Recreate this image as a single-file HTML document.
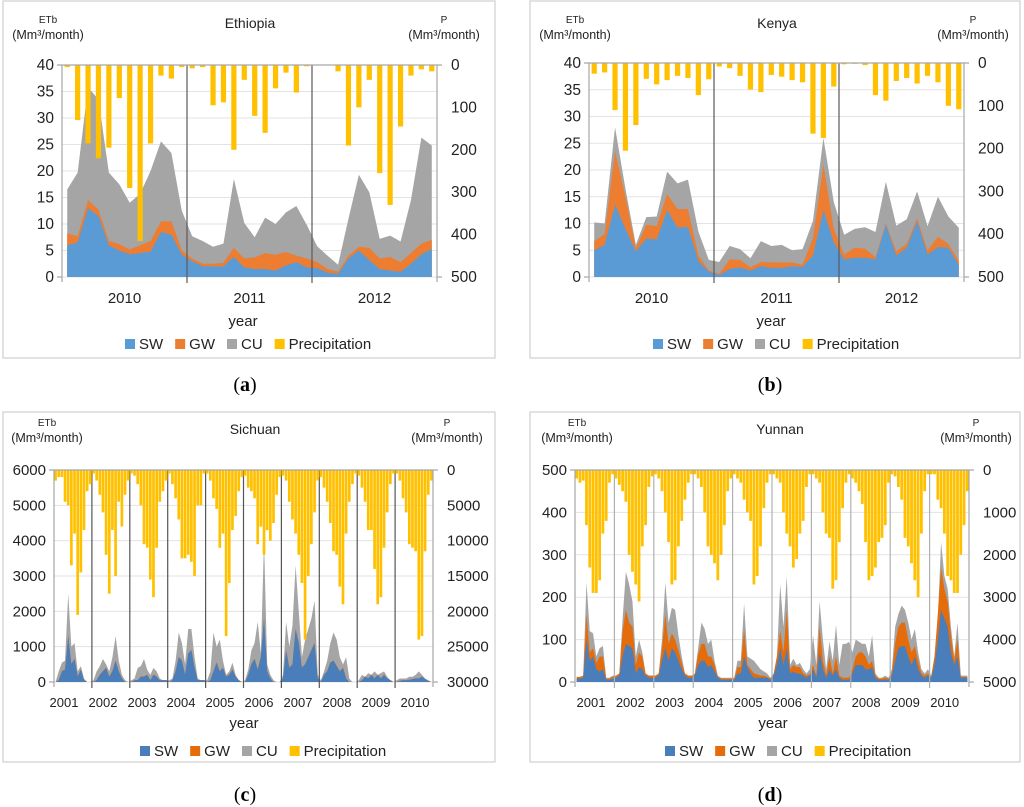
<!DOCTYPE html>
<html><head><meta charset="utf-8"><style>
body{margin:0;background:#fff;}
svg{display:block;font-family:"Liberation Sans",sans-serif;}
</style></head><body>
<svg id="fig" width="1024" height="807" viewBox="0 0 1024 807" xmlns="http://www.w3.org/2000/svg"></svg>
<script>
// ---------- Data ----------
const ethYears = ["2010","2011","2012"];
const ethSW = [6,6.5,13,11.5,6,5,4.3,4.5,4.8,8.5,8,4.2,3,2,2,2,3.8,1.8,1.5,1.5,1.2,2.2,2.8,1.8,1.7,0.8,0.6,3.5,5,3.2,1.5,1.2,1,2.5,4.3,5.3];
const ethSWGW = [8.2,7.7,14.5,12.7,6.8,6.2,5.2,6,6.8,10.5,10.5,5,3.5,2.5,2.5,2.7,5.5,3.5,3.7,4.5,4.2,4.7,4,3.5,2.8,1.5,1,4,5.7,5.5,3.5,3.8,2.8,4.5,6.3,7];
const ethTotal = [16.5,19.7,35.8,33.5,19.7,17.5,14,15.7,20,25.6,23.4,12.5,7.7,6.8,5.7,6.3,18.5,10.2,7.5,11.2,10,12.2,13.4,9.8,5.8,4,2.3,11,19.3,16,7.2,7.8,6.7,14.5,26.3,24.8];
const ethP = [5,130,185,220,195,78,290,415,185,25,32,5,8,5,95,88,200,35,120,160,55,18,65,3,0,0,15,190,100,35,255,330,145,25,10,15];

const kenYears = ["2010","2011","2012"];
const kenSW = [5,6,13.5,9,4.8,7.2,7,12.5,9.2,9.4,3,1,0.4,1.5,1.8,1.2,2,1.7,1.7,2,1.9,4,12.5,6.5,3.3,3.6,3.6,3.3,9.8,4,5.5,10.5,4.2,5.6,5.5,2.2];
const kenSWGW = [6.7,8,23.5,15,5.3,9.8,9.5,15.5,12.7,12.7,4,1.2,0.6,3.3,3.2,1.8,2.8,2.7,2.7,2.7,2.3,7.3,21,9,4.2,5.5,5.3,3.7,10,4.8,6.2,11,5,7.5,6.2,3];
const kenTotal = [10.2,10,28,16.5,6,11.2,11.3,19.7,17.5,18.2,8.5,3.2,2.8,5.8,5.2,3.5,6.7,5.8,6,5,5.2,10.5,26,14,7.9,9,9.3,8.4,17.8,9.6,10.8,16,9.5,15,11.3,9.2];
const kenP = [25,22,110,205,145,37,50,40,30,35,75,38,8,12,30,62,68,28,32,40,45,165,175,55,3,2,5,75,88,42,35,48,30,45,100,108];

const sicYears = ["2001","2002","2003","2004","2005","2006","2007","2008","2009","2010"];
const sicSW = [0,50,300,350,1300,500,650,150,350,50,0,0, 0,50,200,300,400,150,300,600,300,100,0,0, 0,50,50,150,150,200,50,200,150,50,50,50, 0,50,300,700,600,200,800,900,400,50,50,50, 0,50,300,550,300,400,150,200,350,150,50,0, 0,200,500,650,350,700,1800,300,100,0,0,0, 100,900,400,500,1500,1100,400,500,700,900,1100,100, 0,200,300,550,600,450,300,400,100,0,0,0, 0,50,150,100,200,100,200,100,200,100,50,0, 0,30,50,50,60,80,100,100,150,80,30,0];
const sicSWGW = [0,55,310,360,1310,510,660,160,360,55,0,0, 0,55,210,310,410,160,310,610,310,105,0,0, 0,55,55,160,160,210,55,210,160,55,55,55, 0,55,310,710,610,210,810,910,410,55,55,55, 0,55,310,560,310,410,160,210,360,160,55,0, 0,210,510,660,360,710,1810,310,105,0,0,0, 105,910,410,510,1510,1110,410,510,710,910,1110,105, 0,210,310,560,610,460,310,410,105,0,0,0, 0,55,160,105,210,105,210,105,210,105,55,0, 0,35,55,55,65,85,105,105,155,85,35,0];
const sicTotal = [0,300,550,600,2500,1000,1100,300,450,100,0,0, 50,300,450,650,500,300,700,1300,600,200,50,0, 50,100,400,450,650,350,200,400,300,100,50,50, 50,100,600,1400,1100,500,1500,1500,700,100,50,50, 50,300,1400,1000,1200,600,200,300,550,200,50,0, 50,350,900,1100,1700,800,4000,500,200,50,0,0, 200,1700,1000,1600,3300,2000,700,1200,1500,1800,2300,200, 50,300,600,1100,1400,1200,700,500,700,100,0,0, 50,200,150,250,200,300,200,250,300,150,50,0, 50,100,100,100,150,150,200,300,200,100,50,0];
const sicP = [1500,1000,1000,4500,5000,13500,9000,20500,14500,8500,3000,2000, 500,1500,3500,6000,12000,17500,8500,15000,4500,8000,3500,1500, 500,800,2000,5000,10500,11000,15500,18000,11000,4500,3000,1500, 500,2000,4000,7000,12500,12500,12000,13000,15000,5000,5000,500, 500,1500,4000,5500,11000,9000,23500,16000,8500,6500,3000,1000, 800,2500,3000,4000,10500,8000,12000,8500,10000,7500,3500,1000, 800,1500,4500,7000,9000,12000,16000,24000,15000,10500,6000,1500, 1000,2500,4500,7500,11500,12000,16500,19000,9000,4500,2000,500, 800,2500,4500,8500,8500,14000,19000,18000,11000,6000,2000,500, 500,1500,4000,6000,10500,11000,11500,24000,23500,11500,3500,1500];

const yunYears = ["2001","2002","2003","2004","2005","2006","2007","2008","2009","2010"];
const yunSW = [8,8,10,100,50,60,30,25,30,5,5,8, 10,15,60,90,85,80,20,35,30,15,10,10, 10,15,50,80,50,80,70,50,30,15,10,10, 15,40,50,50,35,40,25,10,5,5,5,5, 5,20,20,60,35,20,10,10,10,10,10,5, 15,40,80,40,80,20,25,20,20,15,10,15, 30,10,70,30,10,30,15,30,10,5,5,5, 20,40,40,40,30,30,35,10,5,5,5,5, 15,50,80,85,85,60,40,60,30,15,10,15, 10,40,100,170,150,130,70,40,60,10,10,10];
const yunSWGW = [12,12,15,160,70,80,45,60,60,8,8,12, 15,20,120,170,140,130,40,70,60,20,15,15, 15,20,80,160,90,115,100,75,45,20,15,15, 18,65,90,90,60,60,40,12,8,8,8,8, 8,35,35,125,40,30,20,18,15,15,12,8, 18,60,120,70,170,30,40,35,35,20,15,18, 40,15,130,50,15,60,20,60,15,10,10,10, 30,60,70,70,60,40,50,15,8,8,10,8, 20,90,130,140,140,100,70,85,50,20,15,20, 12,60,160,270,220,190,110,50,100,12,12,12];
const yunTotal = [10,10,15,235,120,115,60,80,85,10,10,15, 15,20,150,260,230,190,60,100,70,20,15,15, 15,20,100,235,140,175,170,110,60,20,15,15, 20,80,140,125,90,100,50,15,10,10,10,10, 10,50,50,185,60,55,50,40,30,25,20,10, 20,60,230,130,250,40,55,40,45,30,20,30, 110,40,190,100,30,95,50,135,40,90,90,95, 70,100,95,90,90,60,110,20,10,10,15,10, 30,130,160,180,170,140,100,125,70,30,20,30, 15,60,150,330,250,220,130,60,140,15,15,15];
const yunP = [200,300,250,1300,2300,2900,2900,2600,1500,1200,300,100, 200,350,500,750,2000,2400,2700,3100,1800,1300,400,150, 100,200,500,1000,1700,2700,2600,1800,1200,700,300,100, 100,200,400,1000,1800,2000,2200,2600,2000,1300,500,200, 100,200,300,700,1000,1200,2700,2500,1800,900,300,100, 100,200,300,1000,1500,1800,2300,2100,1500,1200,400,100, 100,200,300,1000,1500,1600,2800,2600,1700,900,300,100, 200,300,500,800,1700,2600,2500,2300,1700,1600,1300,300, 100,150,400,700,1600,1800,2200,2600,3000,1500,500,100, 100,100,700,900,1500,2500,2600,2900,2900,2000,1300,500];

const ethLeftTicks=[0,5,10,15,20,25,30,35,40], ethRightTicks=[0,100,200,300,400,500];
const sicLeftTicks=[0,1000,2000,3000,4000,5000,6000], sicRightTicks=[0,5000,10000,15000,20000,25000,30000];
const yunLeftTicks=[0,100,200,300,400,500], yunRightTicks=[0,1000,2000,3000,4000,5000];

// ---------- Drawing ----------
const NS="http://www.w3.org/2000/svg";
const svg=document.getElementById('fig');
function mk(tag,attrs,parent,txt){const e=document.createElementNS(NS,tag);for(const k in attrs)e.setAttribute(k,attrs[k]);if(txt!==undefined)e.textContent=txt;(parent||svg).appendChild(e);return e;}

function panel(c){
  const g=mk('g',{});
  
  
  const box=mk('rect',{x:c.box[0],y:c.box[1],width:c.box[2],height:c.box[3],fill:'#fff',stroke:'#d9d9d9','stroke-width':1.5},g);
  
  
  const L=c.L,R=c.R,T=c.T,B=c.B,n=c.total.length,w=(R-L)/n;
  const yL=v=>B-(v/c.lmax)*(B-T);
  const yP=v=>T+(v/c.pmax)*(B-T);
  const xC=i=>L+(i+0.5)*w;
  c.lt.forEach(t=>{const l=mk('line',{x1:L,x2:R,y1:yL(t),y2:yL(t),stroke:'#e3e3e3','stroke-width':1},g);
    });
  function area(arr,col,nm){let d='M'+xC(0)+','+B;arr.forEach((v,i)=>{d+=' L'+xC(i).toFixed(2)+','+yL(v).toFixed(2);});d+=' L'+xC(n-1)+','+B+' Z';
    const p=mk('path',{d:d,fill:col},g);}
  area(c.total,'#a5a5a5','cu-area');
  area(c.swgw,c.gwc,'gw-area');
  area(c.sw,c.swc,'sw-area');
  const years=c.years, ny=years.length, per=n/ny;
  for(let k=1;k<ny;k++){const x=L+k*per*w;const l=mk('line',{x1:x,x2:x,y1:T,y2:B+6,stroke:c.divc,'stroke-width':1.2},g);
    }
  c.p.forEach((v,i)=>{const bw=w*c.bwf;const r=mk('rect',{x:xC(i)-bw/2,y:T,width:bw,height:Math.max(0,yP(v)-T),fill:'#ffc000'},g);
    });
  [[L,T,L,B+5],[R,T,R,B+5],[L-5,T,R+5,T],[L-5,B,L,B],[R,B,R+5,B]].forEach(a=>{const l=mk('line',{x1:a[0],y1:a[1],x2:a[2],y2:a[3],stroke:'#a6a6a6','stroke-width':1.2},g);
    });
  c.lt.forEach(t=>{const e=mk('text',{x:L-8,y:yL(t)+5,'text-anchor':'end','font-size':c.tfs,fill:'#222'},g,String(t));
    });
  c.rt.forEach(t=>{const e=mk('text',{x:R+14,y:yP(t)+5,'text-anchor':'start','font-size':c.tfs,fill:'#222'},g,String(t));
    });
  years.forEach((yr,k)=>{const x=c.ys!==undefined?c.ys+k*c.ystep:L+(k+0.5)*per*w;const e=mk('text',{x:x,y:c.yearY,'text-anchor':'middle','font-size':c.yfs,fill:'#222'},g,yr);
    });
  let e;
  e=mk('text',{x:c.titleX,y:c.titleY,'text-anchor':'middle','font-size':14,fill:'#222'},g,c.title);
  e=mk('text',{x:c.lux,y:c.uy-16,'text-anchor':'middle','font-size':10,fill:'#222'},g,'ETb');
  e=mk('text',{x:c.lux,y:c.uy,'text-anchor':'middle','font-size':12.5,fill:'#222'},g,'(Mm³/month)');
  e=mk('text',{x:c.rux,y:c.uy-16,'text-anchor':'middle','font-size':10,fill:'#222'},g,'P');
  e=mk('text',{x:c.rux,y:c.uy,'text-anchor':'middle','font-size':12.5,fill:'#222'},g,'(Mm³/month)');
  e=mk('text',{x:c.xtX,y:c.xtY,'text-anchor':'middle','font-size':c.xfs,fill:'#222'},g,'year');
  const items=[['SW',c.swc],['GW',c.gwc],['CU','#a5a5a5'],['Precipitation','#ffc000']];
  let lx=c.legX;
  items.forEach(it=>{const s=mk('rect',{x:lx,y:c.legY-10,width:10,height:10,fill:it[1]},g);
    
    const t=mk('text',{x:lx+14,y:c.legY,'font-size':c.lfs,fill:'#222'},g,it[0]);
    
    lx+=14+t.getComputedTextLength()+12;});
  e=mk('text',{x:c.capX,y:c.capY,'text-anchor':'middle','font-size':20,'font-family':'Liberation Serif, serif',fill:'#000'},g);
  
  mk('tspan',{},e,'(');mk('tspan',{'font-weight':'bold'},e,c.cap);mk('tspan',{},e,')');
}

panel({name:'ethiopia',box:[3,1,492,357],L:62,R:437,T:65,B:277,lmax:40,pmax:500,total:ethTotal,swgw:ethSWGW,sw:ethSW,p:ethP,years:ethYears,
  lt:ethLeftTicks,rt:ethRightTicks,swc:'#5b9bd5',gwc:'#ed7d31',divc:'#595959',bwf:0.5,tfs:15.5,yfs:15,yearY:303,
  title:'Ethiopia',titleX:250,titleY:28,lux:48,rux:444,uy:39,xtX:243,xtY:326,xfs:15,legX:125,legY:349,lfs:15,capX:245,capY:391,cap:'a'});
panel({name:'kenya',box:[530,1,490,357],L:589,R:964,T:63,B:277,lmax:40,pmax:500,total:kenTotal,swgw:kenSWGW,sw:kenSW,p:kenP,years:kenYears,
  lt:ethLeftTicks,rt:ethRightTicks,swc:'#5b9bd5',gwc:'#ed7d31',divc:'#595959',bwf:0.5,tfs:15.5,yfs:15,yearY:303,
  title:'Kenya',titleX:777,titleY:28,lux:575,rux:973,uy:39,xtX:771,xtY:326,xfs:15,legX:653,legY:349,lfs:15,capX:770,capY:391,cap:'b'});
panel({name:'sichuan',box:[3,412,492,350],L:54,R:433,T:470,B:682,lmax:6000,pmax:30000,total:sicTotal,swgw:sicSWGW,sw:sicSW,p:sicP,years:sicYears,
  lt:sicLeftTicks,rt:sicRightTicks,swc:'#4a7ebb',gwc:'#e46c0a',divc:'#555',bwf:0.85,tfs:15,yfs:13,yearY:707,ys:64,ystep:39,
  title:'Sichuan',titleX:255,titleY:434,lux:47,rux:447,uy:442,xtX:244,xtY:728,xfs:15,legX:140,legY:756,lfs:15,capX:245,capY:801,cap:'c'});
panel({name:'yunnan',box:[530,412,490,350],L:575,R:969,T:470,B:682,lmax:500,pmax:5000,total:yunTotal,swgw:yunSWGW,sw:yunSW,p:yunP,years:yunYears,
  lt:yunLeftTicks,rt:yunRightTicks,swc:'#4a7ebb',gwc:'#e46c0a',divc:'#b0b0b0',bwf:0.85,tfs:15,yfs:13,yearY:707,ys:591,ystep:39.3,
  title:'Yunnan',titleX:780,titleY:434,lux:577,rux:976,uy:442,xtX:773,xtY:728,xfs:15,legX:665,legY:756,lfs:15,capX:770,capY:801,cap:'d'});
</script>
</body></html>
